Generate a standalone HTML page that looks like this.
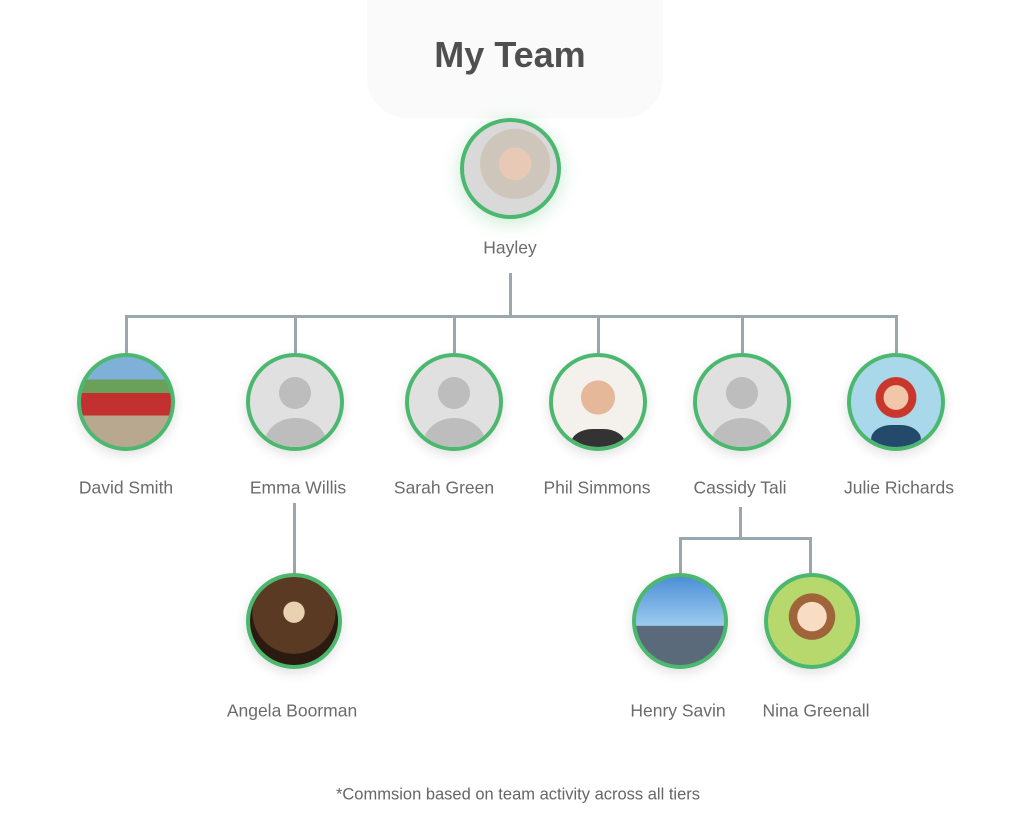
<!DOCTYPE html>
<html><head><meta charset="utf-8"><style>
body{margin:0;width:1024px;height:840px;background:#fff;position:relative;overflow:hidden;font-family:"Liberation Sans",sans-serif}
.t{position:absolute;transform:translate(-50%,-50%);color:#6b6b6b;font-size:17.5px;white-space:nowrap}
.c{position:absolute;border:4px solid #4cb86f;border-radius:50%;box-sizing:border-box;overflow:hidden;background:#e0e0e0;box-shadow:0 4px 12px rgba(0,0,0,.12)}
.ph .h{position:absolute;left:50%;top:22%;width:36%;height:36%;margin-left:-18%;border-radius:50%;background:#bdbdbd}
.ph .b{position:absolute;left:50%;top:68%;width:70%;height:60%;margin-left:-35%;border-radius:50%;background:#bdbdbd}
.l{position:absolute;background:#9aa7ad}
</style></head><body>
<div style="position:absolute;left:367px;top:0;width:296px;height:118px;background:#fafafa;border-radius:0 0 40px 40px"></div>
<div class="t" style="left:510px;top:55px;font-size:36px;font-weight:bold;color:#4f4f4f">My Team</div>

<div class="l" style="left:509px;top:273px;width:3px;height:44px"></div>
<div class="l" style="left:125px;top:315px;width:773px;height:3px"></div>
<div class="l" style="left:125px;top:315px;width:3px;height:38px"></div>
<div class="l" style="left:294px;top:315px;width:3px;height:38px"></div>
<div class="l" style="left:453px;top:315px;width:3px;height:38px"></div>
<div class="l" style="left:597px;top:315px;width:3px;height:38px"></div>
<div class="l" style="left:741px;top:315px;width:3px;height:38px"></div>
<div class="l" style="left:895px;top:315px;width:3px;height:38px"></div>
<div class="l" style="left:293px;top:503px;width:3px;height:73px"></div>
<div class="l" style="left:739px;top:507px;width:3px;height:32px"></div>
<div class="l" style="left:679px;top:537px;width:133px;height:3px"></div>
<div class="l" style="left:679px;top:537px;width:3px;height:39px"></div>
<div class="l" style="left:809px;top:537px;width:3px;height:39px"></div>

<div class="c" style="left:460px;top:118px;width:101px;height:101px;background:radial-gradient(circle at 55% 45%,#e8c9b5 0 22%,#cfc6bb 23% 48%,#d9d9d9 49%);box-shadow:0 4px 18px rgba(76,184,111,.3)"></div>
<div class="t" style="left:510px;top:248px">Hayley</div>

<div class="c" style="left:77px;top:353px;width:98px;height:98px;background:linear-gradient(#7fb0d8 0 25%,#6aa05a 25% 40%,#c23030 40% 65%,#b8a890 65%)"></div>
<div class="c ph" style="left:246px;top:353px;width:98px;height:98px"><div class="h"></div><div class="b"></div></div>
<div class="c ph" style="left:405px;top:353px;width:98px;height:98px"><div class="h"></div><div class="b"></div></div>
<div class="c" style="left:549px;top:353px;width:98px;height:98px;background:radial-gradient(circle at 50% 45%,#e5b899 0 25%,#f4f1ec 26%)"><div style="position:absolute;left:20%;top:80%;width:60%;height:40%;background:#333;border-radius:40%"></div></div>
<div class="c ph" style="left:693px;top:353px;width:98px;height:98px"><div class="h"></div><div class="b"></div></div>
<div class="c" style="left:847px;top:353px;width:98px;height:98px;background:radial-gradient(circle at 50% 45%,#f2c6a8 0 18%,#c9372c 19% 30%,#a9d8ea 31%)"><div style="position:absolute;left:22%;top:75%;width:56%;height:40%;background:#244a6b;border-radius:40%"></div></div>

<div class="t" style="left:126px;top:488px">David Smith</div>
<div class="t" style="left:298px;top:488px">Emma Willis</div>
<div class="t" style="left:444px;top:488px">Sarah Green</div>
<div class="t" style="left:597px;top:488px">Phil Simmons</div>
<div class="t" style="left:740px;top:488px">Cassidy Tali</div>
<div class="t" style="left:899px;top:488px">Julie Richards</div>

<div class="c" style="left:246px;top:573px;width:96px;height:96px;background:radial-gradient(circle at 50% 40%,#e9d2b0 0 15%,#5a3a22 16% 60%,#2a1a10 61%)"></div>
<div class="c" style="left:632px;top:573px;width:96px;height:96px;background:linear-gradient(#4d8fd6,#9ccbef 55%,#5a6a7a 56%)"></div>
<div class="c" style="left:764px;top:573px;width:96px;height:96px;background:radial-gradient(circle at 50% 45%,#f9dcc4 0 22%,#a0643a 23% 35%,#b6d86c 36%)"></div>

<div class="t" style="left:292px;top:711px">Angela Boorman</div>
<div class="t" style="left:678px;top:711px">Henry Savin</div>
<div class="t" style="left:816px;top:711px">Nina Greenall</div>

<div class="t" style="left:518px;top:795px;font-size:16.5px;color:#666">*Commsion based on team activity across all tiers</div>
</body></html>
